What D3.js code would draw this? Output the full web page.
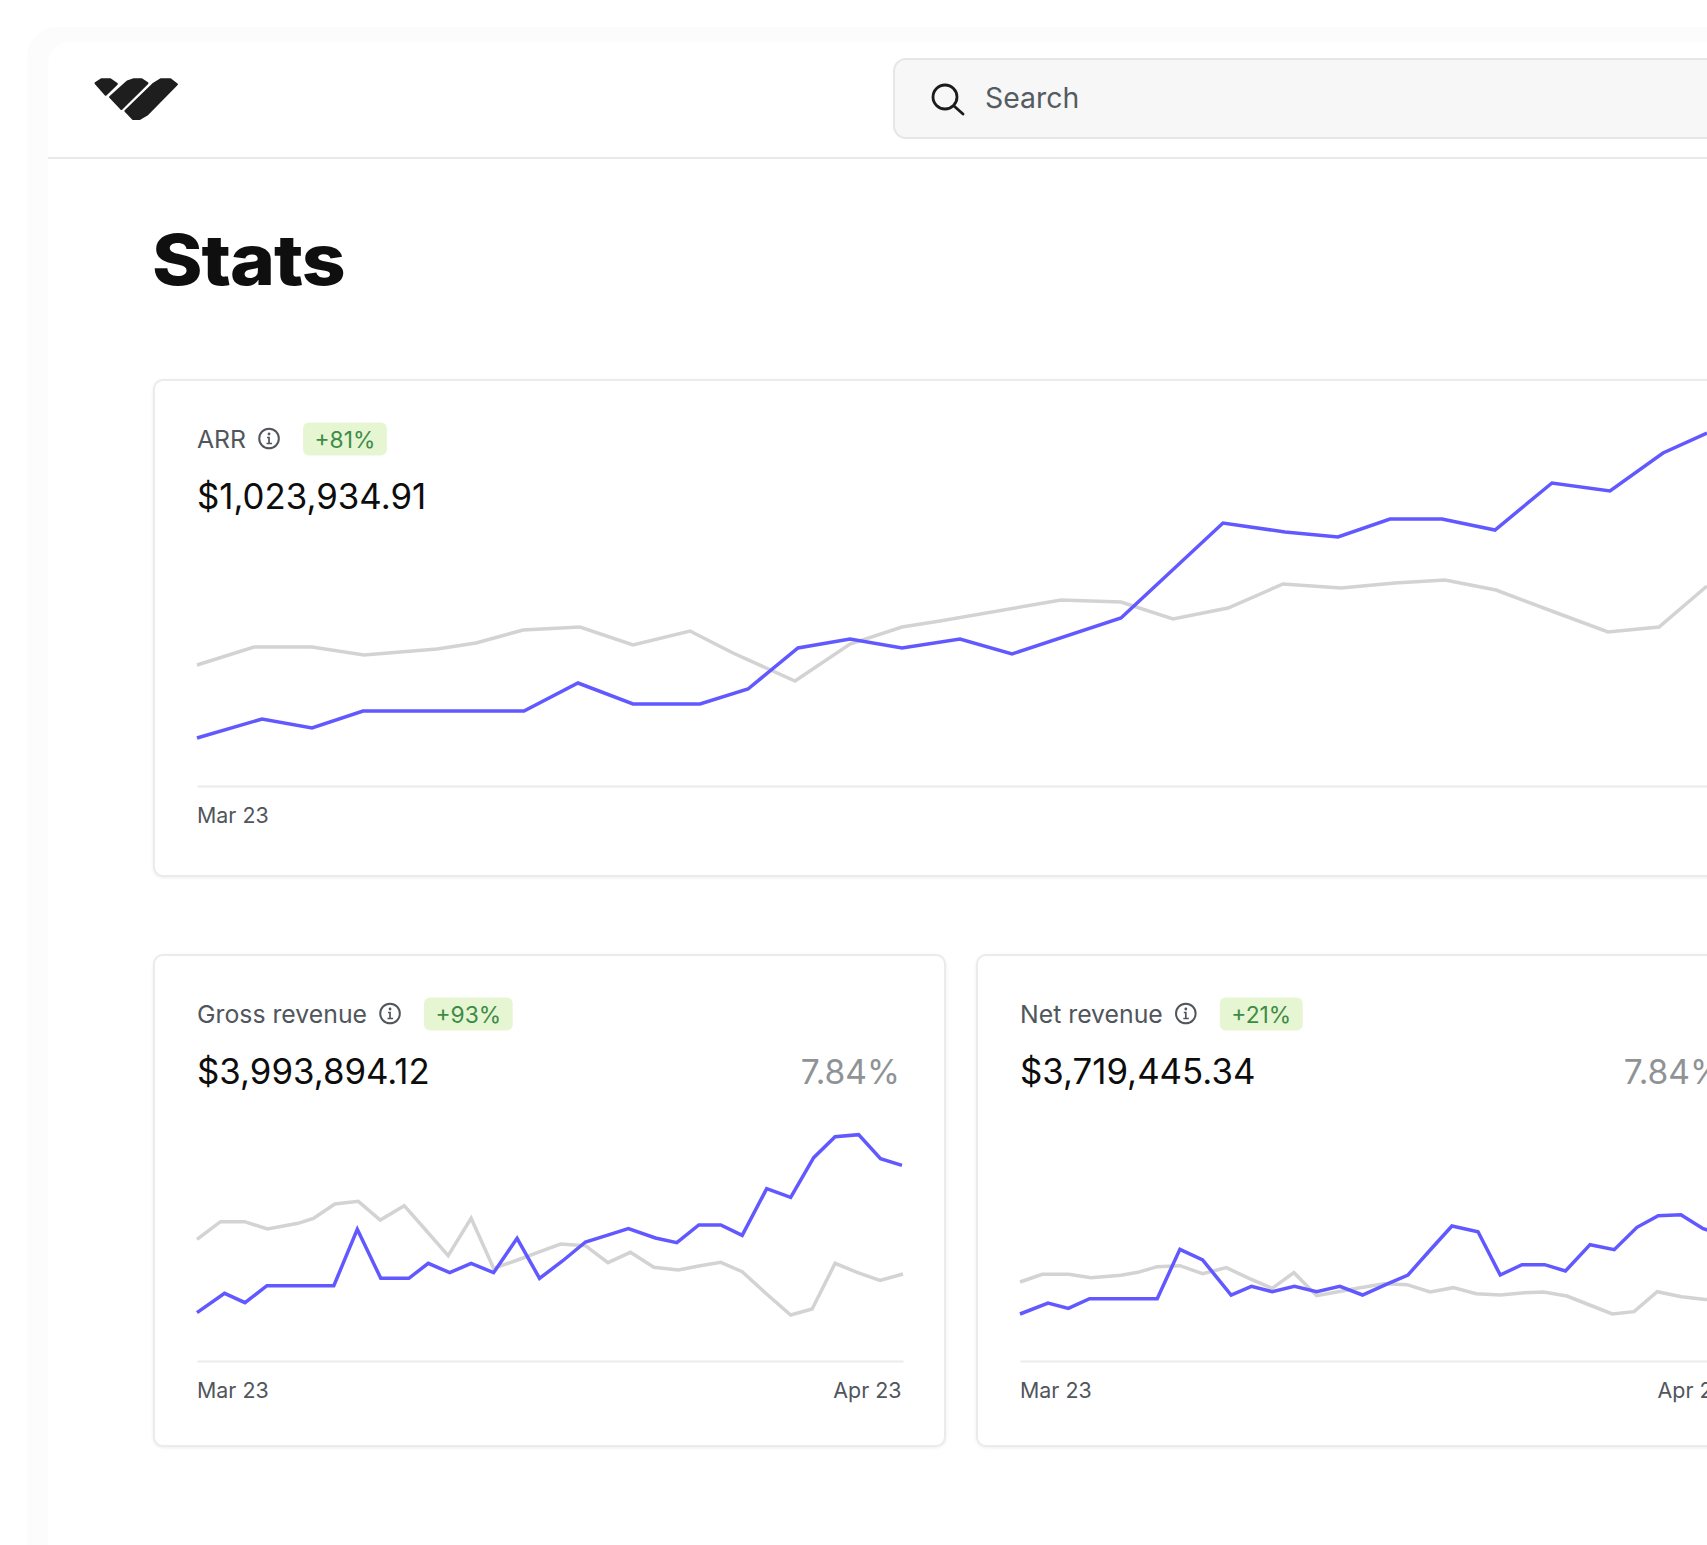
<!DOCTYPE html>
<html lang="en">
<head>
  <meta charset="UTF-8">
  <title>Stats</title>
  <style>
    html, body { margin: 0; background: #fff; overflow: hidden; }
    svg { display: block; font-family: Inter, sans-serif; }
    .card { fill: #fff; stroke: #ebebeb; stroke-width: 2px; filter: drop-shadow(0 1px 1.5px rgba(0,0,0,.07)); }
    .label { font-size: 24.8px; fill: #50565c; }
    .amount { font-size: 34.8px; fill: #0d0d0d; }
    .rate { font-size: 33.6px; fill: #8f9396; }
    .badge { fill: #e6f6d2; }
    .badge-text { font-size: 22.8px; fill: #3e8b47; text-anchor: middle; }
    .line { fill: none; stroke-width: 3.5px; stroke-linejoin: miter; }
    .axis path { stroke: #ebebeb; stroke-width: 2px; }
    .axis text { font-family: Inter, sans-serif; font-size: 21.4px; fill: #50565c; }
  </style>
</head>
<body>
  <svg width="1707" height="1545"></svg>
  <script src="https://d3js.org/d3.v7.min.js"></script>
  <script>
    // values, t = position along the month, v = height above the axis
    const arrNowT = [0, 65, 115, 166, 327, 381, 436, 503, 551, 601, 653, 705, 763, 815, 924, 1026, 1088, 1141, 1193, 1245, 1298, 1355, 1413, 1466, 1510];
    const arrNowV = [48, 67, 58, 75, 75, 103, 82, 82, 97, 138, 147, 138, 147, 132, 168, 263, 254, 249, 267, 267, 256, 303, 295, 333, 353];
    const arrPrevT = [0, 57, 115, 167, 240, 279, 326, 383, 436, 493, 536, 598, 653, 705, 743, 864, 924, 976, 1031, 1086, 1144, 1198, 1248, 1299, 1360, 1411, 1462, 1510];
    const arrPrevV = [121, 139, 139, 131, 137, 143, 156, 159, 141, 155, 133, 105, 142, 159, 165, 186, 184, 167, 178, 202, 198, 203, 206, 196, 173, 154, 159, 200];

    const grossNowT = [92, 146, 186, 229, 360, 406, 452, 507, 545, 587, 629, 673, 719, 763, 808, 853, 895, 937, 990, 1032, 1075, 1118, 1160, 1208, 1255, 1300, 1342, 1388, 1431, 1473];
    const grossNowV = [145, 203, 175, 226, 226, 395, 248, 248, 293, 265, 293, 265, 368, 248, 300, 357, 377, 397, 369, 355, 408, 408, 377, 517, 491, 610, 673, 679, 607, 587];
    const grossPrevT = [92, 138, 185, 230, 290, 320, 362, 408, 451, 498, 540, 584, 629, 673, 720, 760, 804, 853, 897, 941, 987, 1035, 1075, 1118, 1160, 1210, 1255, 1297, 1342, 1385, 1430, 1475];
    const grossPrevV = [365, 418, 418, 396, 413, 428, 471, 479, 423, 466, 393, 316, 428, 278, 303, 326, 351, 346, 295, 326, 281, 273, 285, 296, 268, 198, 138, 156, 293, 266, 242, 261];

    const netNowT = [146, 204, 246, 290, 430, 477, 524, 583, 625, 668, 714, 760, 808, 855, 903, 949, 995, 1040, 1094, 1140, 1185, 1232, 1275, 1326, 1376, 1423, 1467, 1514, 1560, 1610];
    const netNowV = [141, 174, 158, 187, 187, 335, 303, 198, 224, 208, 224, 208, 224, 198, 229, 258, 333, 405, 388, 258, 289, 289, 270, 349, 334, 401, 436, 439, 397, 373];
    const netPrevT = [146, 192, 247, 293, 355, 390, 430, 477, 524, 573, 620, 668, 713, 760, 810, 850, 900, 947, 995, 1043, 1090, 1140, 1190, 1230, 1278, 1325, 1372, 1417, 1465, 1515, 1560, 1610];
    const netPrevV = [237, 260, 260, 250, 257, 266, 283, 286, 262, 280, 248, 218, 265, 196, 209, 220, 232, 229, 207, 220, 202, 198, 205, 207, 195, 168, 141, 148, 208, 193, 185, 183];

    const titles = ["ARR", "Gross revenue", "Net revenue"];
    const changes = ["+81%", "+93%", "+21%"];
    const amounts = ["$1,023,934.91", "$3,993,894.12", "$3,719,445.34"];
    const rates = ["", "7.84%", "7.84%"];
    const tickLabels = ["Mar 23", "Apr 23"];

    const NOW = "#6159ff", PREV = "#d3d3d3";
    const svg = d3.select("svg");

    // page frame
    svg.append("rect").attr("x", 27).attr("y", 27).attr("width", 1720).attr("height", 1560).attr("rx", 30).attr("fill", "#fcfcfc");
    svg.append("rect").attr("x", 48).attr("y", 42).attr("width", 1700).attr("height", 1540).attr("rx", 22).attr("fill", "#fff");
    svg.append("line").attr("x1", 48).attr("x2", 1707).attr("y1", 158).attr("y2", 158).attr("stroke", "#e9e9e9").attr("stroke-width", 2);

    // logo, traced in zoom units
    svg.append("g").attr("transform", "scale(0.3827,0.3571)")
      .attr("fill", "#1e1e1e").attr("stroke", "#1e1e1e").attr("stroke-width", 6).attr("stroke-linejoin", "round")
      .selectAll("path")
      .data(["M250,233 L265,222 L288,222 L305,235 L276,265 Z",
             "M288,272 L333,228 L350,222 L370,222 L385,233 L317,305 Z",
             "M328,311 L402,234 L420,222 L445,222 L462,236 L385,320 L365,333 L348,333 Z"])
      .join("path").attr("d", d => d);

    // search box
    svg.append("rect").attr("x", 894).attr("y", 59).attr("width", 900).attr("height", 79).attr("rx", 12)
      .attr("fill", "#f7f7f7").attr("stroke", "#e6e6e6").attr("stroke-width", 2);
    svg.append("circle").attr("cx", 945).attr("cy", 97).attr("r", 12).attr("fill", "none").attr("stroke", "#1b1b1b").attr("stroke-width", 2.8);
    svg.append("line").attr("x1", 954).attr("y1", 106).attr("x2", 963).attr("y2", 114).attr("stroke", "#1b1b1b").attr("stroke-width", 2.8).attr("stroke-linecap", "round");
    svg.append("text").attr("x", 985).attr("y", 108).text("Search")
      .attr("font-size", 28.4).attr("fill", "#555b60");

    // heading glyphs are wider in the reference than Inter, so stretch a little
    svg.append("text").attr("transform", "translate(152,285) scale(1.095,1)").text("Stats")
      .attr("font-size", 70).attr("font-weight", 800).attr("letter-spacing", -1).attr("fill", "#0f0f0f");

    function drawCard(i, box, now, prev, xDomain, yDomain, ticks) {
      const g = svg.append("g");
      g.append("rect").attr("class", "card").attr("x", box.x).attr("y", box.y)
        .attr("width", box.w).attr("height", box.h).attr("rx", 9);

      const left = box.x + 43;
      const head = g.append("text").attr("class", "label").attr("x", left).attr("y", box.y + 68).text(titles[i]);
      const textEnd = left + head.node().getComputedTextLength();

      // info icon
      const cx = textEnd + 23, cy = box.y + 58.5;
      g.append("circle").attr("cx", cx).attr("cy", cy).attr("r", 9.8).attr("fill", "none").attr("stroke", "#50565c").attr("stroke-width", 2);
      g.append("circle").attr("cx", cx).attr("cy", cy - 4.5).attr("r", 1.4).attr("fill", "#50565c");
      g.append("path").attr("d", `M${cx - 2},${cy - 1} H${cx} V${cy + 5} M${cx - 2.5},${cy + 5} H${cx + 3}`)
        .attr("fill", "none").attr("stroke", "#50565c").attr("stroke-width", 1.7);

      // change badge
      const bx = cx + 34;
      const badge = g.append("text").attr("class", "badge-text").attr("y", box.y + 68).text(changes[i]);
      const bw = badge.node().getComputedTextLength() + 23;
      g.insert("rect", ".badge-text").attr("class", "badge").attr("x", bx).attr("y", box.y + 42.5)
        .attr("width", bw).attr("height", 33).attr("rx", 6);
      badge.attr("x", bx + bw / 2);

      g.append("text").attr("class", "amount").attr("x", left).attr("y", box.y + 129).text(amounts[i]);
      if (rates[i]) g.append("text").attr("class", "rate").attr("x", box.rateEnd).attr("y", box.y + 129)
        .attr("text-anchor", "end").text(rates[i]);

      const x = d3.scaleLinear().domain(xDomain).range([left, box.plotRight]);
      const y = d3.scaleLinear().domain(yDomain).range([box.base, box.base - box.plotH]);
      const line = d3.line().x(d => x(d[0])).y(d => y(d[1]));

      g.append("path").attr("class", "line").attr("stroke", PREV).attr("d", line(d3.zip(prev[0], prev[1])));
      g.append("path").attr("class", "line").attr("stroke", NOW).attr("d", line(d3.zip(now[0], now[1])));

      // bottom axis, only start and end ticks
      const axis = d3.axisBottom(x).tickValues(ticks).tickSize(0).tickPadding(22)
        .tickFormat((d, k) => tickLabels[k]);
      const ag = g.append("g").attr("class", "axis").attr("transform", `translate(0,${box.base})`).call(axis);
      ag.selectAll("text").attr("text-anchor", (d, k) => k === 0 ? "start" : "end")
        .attr("dx", (d, k) => k === 0 ? -0.5 : -2);
    }

    drawCard(0, {x: 154, y: 380, w: 1700, h: 496, base: 786, plotRight: 1707, plotH: 400},
      [arrNowT, arrNowV], [arrPrevT, arrPrevV], [0, 1510], [0, 400], [0]);
    drawCard(1, {x: 154, y: 955, w: 791, h: 491, base: 1361, plotRight: 903, plotH: 300, rateEnd: 900},
      [grossNowT, grossNowV], [grossPrevT, grossPrevV], [92, 1475], [0, 900], [92, 1475]);
    drawCard(2, {x: 977, y: 955, w: 791, h: 491, base: 1361, plotRight: 1727.3, plotH: 300, rateEnd: 1723},
      [netNowT, netNowV], [netPrevT, netPrevV], [146, 1610], [0, 900], [146, 1610]);
  </script>
</body>
</html>
